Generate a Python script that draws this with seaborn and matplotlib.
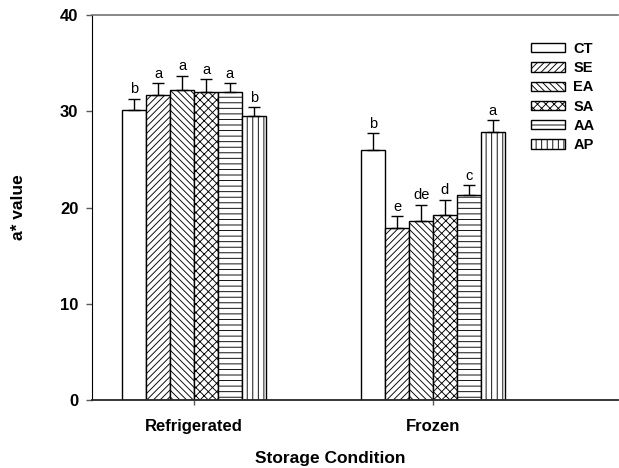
import numpy as np
import pandas as pd
import matplotlib
matplotlib.use("Agg")
import matplotlib.pyplot as plt
import seaborn as sns

conditions = ["Refrigerated", "Frozen"]
treatments = ["CT", "SE", "EA", "SA", "AA", "AP"]
ref_means = [30.1, 31.7, 32.2, 32.0, 32.0, 29.5]
ref_err = [1.2, 1.2, 1.5, 1.3, 0.9, 0.9]
ref_letters = ["b", "a", "a", "a", "a", "b"]
froz_means = [26.0, 17.9, 18.6, 19.2, 21.3, 27.8]
froz_err = [1.7, 1.2, 1.7, 1.6, 1.0, 1.3]
froz_letters = ["b", "e", "de", "d", "c", "a"]
yticks = [0, 10, 20, 30, 40]

hatches = ["", "/////", "\\\\\\\\\\", "xxxx", "---", "|||"]

sns.set_style("ticks")
plt.rcParams["font.family"] = ["Liberation Sans", "DejaVu Sans"]
plt.rcParams["hatch.linewidth"] = 0.65
plt.rcParams["text.color"] = "black"
plt.rcParams["axes.labelcolor"] = "black"

df = pd.DataFrame({
    "Condition": [c for c in conditions for _ in treatments],
    "Treatment": treatments * 2,
    "value": ref_means + froz_means,
})
errs = {"Refrigerated": ref_err, "Frozen": froz_err}
letters = {"Refrigerated": ref_letters, "Frozen": froz_letters}

fig = plt.figure(figsize=(6.19, 4.68), dpi=100)
ax = fig.add_axes([92/619, 1-400/468, (618-92)/619, (400-15)/468])

sns.barplot(data=df, x="Condition", y="value", hue="Treatment", order=conditions,
            hue_order=treatments, palette=["white"]*6, edgecolor="black",
            linewidth=1.0, width=0.6, errorbar=None, ax=ax, legend=False)

bar_conts = list(ax.containers)
for ti, cont in enumerate(bar_conts):
    xs, tops, ee, ll = [], [], [], []
    for ci, p in enumerate(cont.patches):
        p.set_hatch(hatches[ti])
        p.set_edgecolor("black")
        xs.append(p.get_x() + p.get_width()/2)
        tops.append(p.get_height())
        ee.append(errs[conditions[ci]][ti])
        ll.append(letters[conditions[ci]][ti])
    ax.errorbar(xs, tops, yerr=[np.zeros(len(ee)), ee], fmt="none", ecolor="black",
                elinewidth=1.0, capsize=4.3, capthick=1.0, zorder=1)
    for x, t, e, l in zip(xs, tops, ee, ll):
        ax.text(x, t + e + 0.25, l, ha="center", va="bottom", fontsize=10.5,
                color="black")

ax.set_xlim(-0.427, 1.774)
ax.set_ylim(0, 40)
ax.set_yticks(yticks)
ax.set_yticklabels([str(v) for v in yticks], fontsize=12, fontweight="bold")
ax.set_xticks([0, 1])
ax.set_xticklabels(conditions, fontsize=12, fontweight="bold")
ax.tick_params(axis="both", direction="out", width=1, colors="0.35",
               labelcolor="black")
ax.tick_params(axis="y", length=4.3, pad=5.5)
ax.tick_params(axis="x", length=3.6, pad=10)
ax.set_ylabel("a* value", fontsize=12.5, fontweight="bold", color="black")
ax.set_xlabel("Storage Condition", fontsize=12.5, fontweight="bold", color="black")
ax.xaxis.set_label_coords(0.452, -0.1325)
ax.yaxis.set_label_coords(-0.125, 0.5)

ax.spines["right"].set_visible(False)
ax.spines["top"].set_color("0.45")
ax.spines["top"].set_linewidth(1.2)
ax.spines["left"].set_color("black")
ax.spines["bottom"].set_color("0.15")
ax.spines["bottom"].set_linewidth(1.3)

leg = ax.legend(handles=bar_conts, labels=treatments, loc="upper left",
                bbox_to_anchor=(0.8345, 0.93), frameon=False,
                prop={"weight": "bold", "size": 10.5}, handlelength=2.35,
                handleheight=0.6, labelspacing=0.36, handletextpad=0.55,
                borderaxespad=0, borderpad=0)
for t in leg.get_texts():
    t.set_color("black")

fig.savefig("out.png", dpi=100)
